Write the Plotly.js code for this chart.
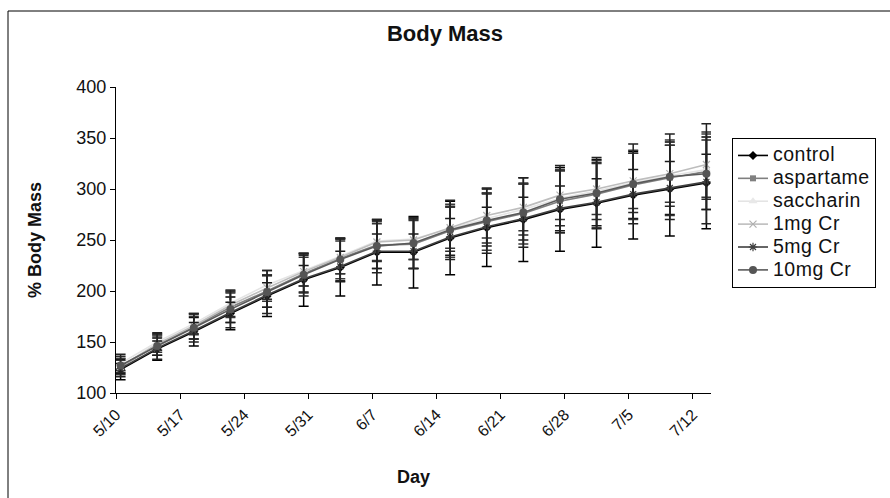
<!DOCTYPE html>
<html>
<head>
<meta charset="utf-8">
<script src="https://cdn.plot.ly/plotly-3.0.1.min.js"></script>
<style>
html,body{margin:0;padding:0;background:#fff;}
#chart{width:890px;height:498px;}
.legendtext{font-size:19.5px !important; letter-spacing:0.5px;}
</style>
</head>
<body>
<div id="chart"></div>
<script>
// Measurement days
var dates = ['2008-05-10','2008-05-14','2008-05-18','2008-05-22','2008-05-26','2008-05-30',
             '2008-06-03','2008-06-07','2008-06-11','2008-06-15','2008-06-19','2008-06-23',
             '2008-06-27','2008-07-01','2008-07-05','2008-07-09','2008-07-13'];

var seriesNames = ['control','aspartame','saccharin','1mg Cr','5mg Cr','10mg Cr'];

// % body mass (means)
var control   = [123,143,160,178,195,211,223,238,238,252,262,270,280,286,294,300,306];
var aspartame = [126,147,165,184,200,217,232,245,246,259,268,276,288,295,304,311,317];
var saccharin = [129,150,168,188,206,220,234,249,251,261,271,280,291,298,306,313,319];
var cr1mg     = [126,148,166,186,203,219,233,248,250,262,274,282,294,300,308,315,324];
var cr5mg     = [124,144,161,179,196,212,224,239,239,253,263,271,281,287,295,301,307];
var cr10mg    = [127,146,164,182,199,216,231,244,247,260,269,277,290,296,305,312,315];

// error bar half-lengths
var errControl   = [10,11,14,16,20,26,28,32,35,36,38,41,41,43,43,46,45];
var errAspartame = [8,10,12,15,16,19,20,23,24,26,28,30,31,33,34,37,37];
var errSaccharin = [7,8,10,13,14,15,17,20,20,22,24,25,27,28,29,30,29];
var errCr1mg     = [6,8,9,12,13,14,16,18,19,20,22,23,24,25,27,28,32];
var errCr5mg     = [5,7,8,10,12,13,15,17,17,18,19,21,22,23,24,26,27];
var errCr10mg    = [11,13,14,18,21,21,21,26,25,29,32,34,33,35,39,42,49];

var values = [control, aspartame, saccharin, cr1mg, cr5mg, cr10mg];
var errors = [errControl, errAspartame, errSaccharin, errCr1mg, errCr5mg, errCr10mg];

var styles = [
  {line:'#000000', marker:{symbol:'diamond', size:7, color:'#000000'}, err:'#000000'},
  {line:'#7f7f7f', marker:{symbol:'square', size:6, color:'#808080'}, err:'#3a3a3a'},
  {line:'#e4e4e4', marker:{symbol:'triangle-up', size:8, color:'#e8e8e8'}, err:'#2a2a2a'},
  {line:'#bdbdbd', marker:{symbol:'x-thin-open', size:7, color:'#b0b0b0', line:{width:1.2, color:'#b0b0b0'}}, err:'#333333'},
  {line:'#404040', marker:{symbol:'asterisk-open', size:7, color:'#404040', line:{width:1.2, color:'#404040'}}, err:'#1a1a1a'},
  {line:'#5a5a5a', marker:{symbol:'circle', size:8, color:'#555555'}, err:'#222222'}
];

var traces = [];
for (var i = 0; i < seriesNames.length; i++) {
  traces.push({
    type:'scatter', mode:'lines+markers', name:seriesNames[i],
    x:dates, y:values[i],
    xperiod:86400000, xperiodalignment:'middle',
    line:{color:styles[i].line, width:1.6},
    marker:styles[i].marker,
    error_y:{type:'data', array:errors[i], visible:true, color:styles[i].err, thickness:1.5, width:5}
  });
}

var F = 'Arial, "Liberation Sans", Helvetica, sans-serif';
var layout = {
  width:890, height:498,
  margin:{l:116, r:179, t:87, b:105},
  paper_bgcolor:'#ffffff', plot_bgcolor:'#ffffff',
  font:{family:F, color:'#111111'},
  showlegend:true,
  title:{text:'<b>Body Mass</b>', font:{family:F, size:22, color:'#111'}, xref:'container', x:0.5, xanchor:'center', yref:'container', y:1-33/498, yanchor:'middle'},
  xaxis:{
    type:'date', range:['2008-05-10','2008-07-14'],
    tick0:'2008-05-10', dtick:7*86400000, tickformat:'%-m/%-d',
    tickangle:-45, tickfont:{family:F, size:16, color:'#111'},
    showgrid:false, zeroline:false, showline:true, linecolor:'#000', linewidth:1,
    ticks:'outside', ticklen:5, tickcolor:'#000', tickwidth:1
  },
  yaxis:{
    range:[100,400], dtick:50, tickfont:{family:F, size:18, color:'#111'},
    showgrid:false, zeroline:false, showline:true, linecolor:'#000', linewidth:1,
    ticks:'outside', ticklen:5, tickcolor:'#000', tickwidth:1
  },
  legend:{
    x:(732-116)/595, xanchor:'left', y:(393-138)/306, yanchor:'top',
    bordercolor:'#000', borderwidth:1, bgcolor:'#fff',
    font:{family:F, size:15.3, color:'#111'}, itemwidth:30
  },
  annotations:[
    {text:'<b>% Body Mass</b>', xref:'paper', yref:'paper', x:(35-116)/595, y:(393-240)/306, xanchor:'center', yanchor:'middle', textangle:-90, showarrow:false, font:{family:F, size:18, color:'#111'}},
    {text:'<b>Day</b>', xref:'paper', yref:'paper', x:0.5, y:(393-477)/306, xanchor:'center', yanchor:'middle', showarrow:false, font:{family:F, size:18, color:'#111'}}
  ],
  shapes:[
    {type:'rect', xref:'paper', yref:'paper', x0:(8-116)/595, x1:(900-116)/595, y0:(393-510)/306, y1:(393-11)/306, line:{color:'#000', width:1}, fillcolor:'rgba(0,0,0,0)', layer:'below'}
  ]
};

Plotly.newPlot('chart', traces, layout, {staticPlot:true, displayModeBar:false});
</script>
</body>
</html>
